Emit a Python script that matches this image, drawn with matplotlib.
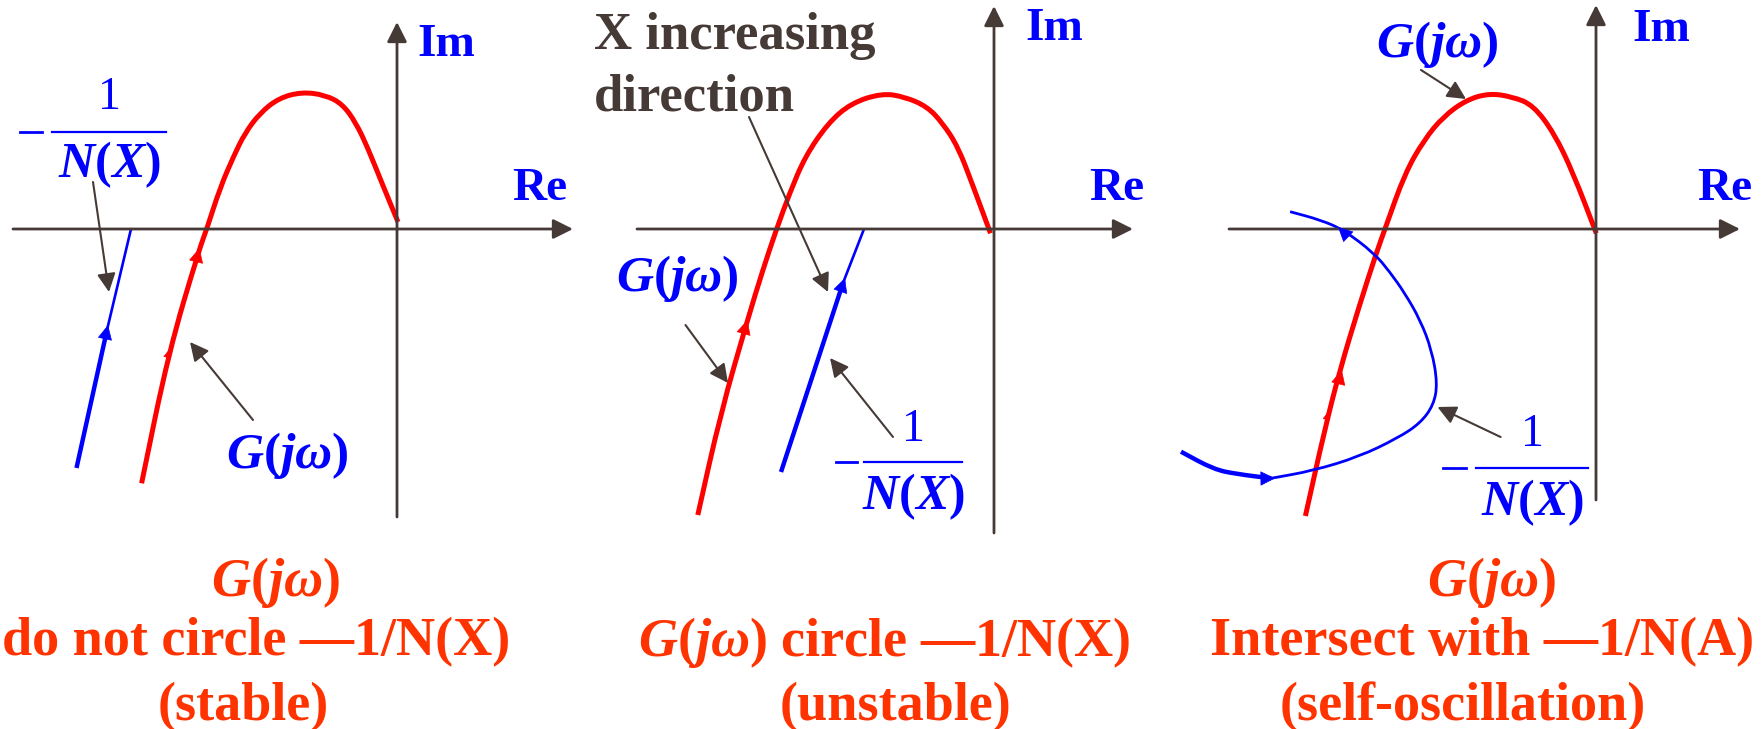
import matplotlib
matplotlib.use("Agg")
import matplotlib.pyplot as plt
from matplotlib.path import Path
from matplotlib.patches import PathPatch

plt.rcParams["mathtext.fontset"] = "custom"
plt.rcParams["mathtext.rm"] = "Liberation Serif:bold"
plt.rcParams["mathtext.it"] = "Liberation Serif:italic:bold"
plt.rcParams["mathtext.bf"] = "Liberation Serif:bold"

W, H = 1761, 729
RED = "#ff0000"
BLUE = "#0000ff"
DARK = "#463a36"
ORANGE = "#ff3300"
SERIF = "Liberation Serif"

# G(jw) curves, one per panel (reference pixel coords, y down)
g1_x = [141.6, 168.4, 199.0, 206.7, 220.0, 233.4, 245.0, 260.0, 279.0, 302.0, 325.0, 342.5, 356.0, 367.4, 382.7, 398.0]
g1_y = [483.3, 353.3, 250.0, 229.3, 188.0, 156.7, 133.0, 113.0, 98.0, 92.0, 95.0, 104.0, 123.0, 147.0, 185.0, 222.0]
g2_x = [697.8, 720.7, 747.5, 762.8, 776.2, 789.6, 805.0, 827.9, 850.9, 881.5, 904.4, 927.4, 942.7, 958.0, 973.3, 990.5]
g2_y = [515.0, 413.0, 320.0, 270.0, 230.0, 193.3, 156.7, 123.3, 103.3, 93.3, 96.7, 106.7, 123.3, 146.7, 186.7, 233.3]
g3_x = [1305.4, 1324.6, 1339.9, 1359.0, 1376.2, 1385.8, 1404.9, 1424.0, 1443.2, 1466.2, 1489.1, 1512.1, 1533.1, 1554.2, 1573.3, 1596.3]
g3_y = [516.0, 430.0, 370.0, 306.7, 253.3, 226.7, 173.3, 140.0, 116.7, 100.0, 93.3, 96.7, 105.0, 133.3, 173.3, 233.3]

# -1/N(X) curves
n1_x = [76.5, 107.0, 131.0]
n1_y = [468.0, 330.0, 229.0]
n2_x = [781.0, 843.0, 864.0]
n2_y = [472.0, 283.0, 229.0]
n3_x = [1181.0, 1213.6, 1236.5, 1271.0, 1313.1, 1359.0, 1397.3, 1420.2, 1433.6, 1437.5, 1431.7, 1420.2, 1404.9, 1389.6, 1374.3, 1343.7, 1320.7, 1290.1]
n3_y = [451.7, 469.3, 474.0, 478.3, 470.7, 456.7, 438.3, 423.3, 405.0, 383.3, 350.0, 320.0, 293.3, 271.7, 253.3, 230.0, 220.0, 211.7]

# panel axes: origin x, left end, right end, top, bottom
axis_x0 = [397, 994, 1596]
axis_left = [13, 637, 1229]
axis_right = [573, 1133, 1740]
axis_top = [22, 6, 5]
axis_bottom = [517, 533, 500]
axis_y0 = 229

fig = plt.figure(figsize=(W / 100, H / 100), dpi=100)
ax = fig.add_axes([0, 0, 1, 1])
ax.set_xlim(0, W)
ax.set_ylim(H, 0)
ax.axis("off")


def smooth(xs, ys, color, lw):
    # quadratic bezier through midpoints, read points act as control points
    pts = list(zip(xs, ys))
    verts = [pts[0]]
    codes = [Path.MOVETO]
    if len(pts) > 2:
        mid = lambda a, b: ((a[0] + b[0]) / 2, (a[1] + b[1]) / 2)
        verts.append(mid(pts[0], pts[1]))
        codes.append(Path.LINETO)
        for i in range(1, len(pts) - 1):
            verts += [pts[i], mid(pts[i], pts[i + 1])]
            codes += [Path.CURVE3, Path.CURVE3]
    verts.append(pts[-1])
    codes.append(Path.LINETO)
    ax.add_patch(PathPatch(Path(verts, codes), fill=False, edgecolor=color,
                           lw=lw, capstyle="butt", joinstyle="round"))


def arrow(x0, y0, x1, y1, color=DARK, lw=1.5, ms=28):
    ax.annotate("", xy=(x1, y1), xytext=(x0, y0),
                arrowprops=dict(arrowstyle="-|>", color=color, lw=lw,
                                mutation_scale=ms, shrinkA=0, shrinkB=0))


def head(x0, y0, x1, y1, color, ms=24):
    ax.annotate("", xy=(x1, y1), xytext=(x0, y0),
                arrowprops=dict(arrowstyle="-|>", color=color, lw=0.5,
                                mutation_scale=ms, shrinkA=0, shrinkB=0))


# coordinate axes
for i in range(3):
    arrow(axis_left[i], axis_y0, axis_right[i], axis_y0, lw=2, ms=30)
    arrow(axis_x0[i], axis_bottom[i], axis_x0[i], axis_top[i], lw=2, ms=30)

# G(jw)
for gx, gy in [(g1_x, g1_y), (g2_x, g2_y), (g3_x, g3_y)]:
    smooth(gx, gy, RED, 3.6)

# -1/N(X)
ax.plot(n1_x[:2], n1_y[:2], color=BLUE, lw=3.2, solid_capstyle="butt")
ax.plot(n1_x[1:], n1_y[1:], color=BLUE, lw=1.9, solid_capstyle="butt")
ax.plot(n2_x[:2], n2_y[:2], color=BLUE, lw=3.2, solid_capstyle="butt")
ax.plot(n2_x[1:], n2_y[1:], color=BLUE, lw=1.9, solid_capstyle="butt")
smooth(n3_x[:4], n3_y[:4], BLUE, 3.2)
smooth(n3_x[3:], n3_y[3:], BLUE, 2.0)

# direction arrowheads on curves
head(195.6, 263.6, 199.5, 248.0, RED)
head(166.0, 362.0, 168.8, 350.0, RED, ms=12)
head(743.6, 333.5, 747.5, 320.0, RED)
head(1338.3, 383.6, 1341.8, 370.0, RED)
head(1325.5, 424.0, 1328.0, 412.0, RED, ms=12)
head(104.9, 339.0, 108.0, 325.0, BLUE)
head(840.5, 291.0, 845.0, 278.0, BLUE)
head(1348.0, 236.5, 1338.0, 227.0, BLUE)
head(1261.0, 478.5, 1275.0, 478.3, BLUE)

# pointer arrows
arrow(93, 182, 109, 292)
arrow(253, 420, 190, 342)
arrow(749, 117, 828, 292)
arrow(685.5, 325, 728, 383)
arrow(893, 437, 830, 358)
arrow(1421, 70, 1466, 99)
arrow(1500.6, 437, 1437.5, 407)

# axis names
for x, y in [(446, 45), (1054, 29), (1661, 30)]:
    ax.text(x, y, "Im", color=BLUE, fontsize=34, family=SERIF, weight="bold", ha="center", va="center")
for x, y in [(540, 189), (1117, 189), (1725, 189)]:
    ax.text(x, y, "Re", color=BLUE, fontsize=34, family=SERIF, weight="bold", ha="center", va="center")

# G(jw) labels
for x, y in [(287, 455), (677, 278), (1437, 44)]:
    ax.text(x, y, r"$G(j\omega)$", color=BLUE, fontsize=37, ha="center", va="center")

# -1/N(X) labels: minus, bar, numerator, denominator
fractions = [(20, 42, 52, 166, 132, 109, 98, 165),
             (835.5, 856.6, 864, 962, 462, 913, 430, 497),
             (1443, 1466, 1476, 1588, 468, 1532, 435, 503)]
for m0, m1, b0, b1, yb, xc, yn, yd in fractions:
    ax.plot([m0, m1], [yb, yb], color=BLUE, lw=2)
    ax.plot([b0, b1], [yb, yb], color=BLUE, lw=1.6)
    ax.text(xc, yn, "1", color=BLUE, fontsize=33, family=SERIF, ha="center", va="center")
    ax.text(xc, yd, r"$N(X)$", color=BLUE, fontsize=36, ha="center", va="center")

ax.text(594, 36, "X increasing", color=DARK, fontsize=38, family=SERIF, weight="bold", ha="left", va="center")
ax.text(594, 97, "direction", color=DARK, fontsize=38, family=SERIF, weight="bold", ha="left", va="center")

# captions
captions = [(275, 582, r"$G(j\omega)$"),
            (256, 642, "do not circle \u20141/N(X)"),
            (243, 707, "(stable)"),
            (884, 642, r"$G(j\omega)$" + " circle \u20141/N(X)"),
            (895, 707, "(unstable)"),
            (1491, 582, r"$G(j\omega)$"),
            (1482, 642, "Intersect with \u20141/N(A)"),
            (1463, 707, "(self-oscillation)")]
for x, y, s in captions:
    ax.text(x, y, s, color=ORANGE, fontsize=39, family=SERIF, weight="bold", ha="center", va="center")

fig.savefig("out.png", dpi=100)
